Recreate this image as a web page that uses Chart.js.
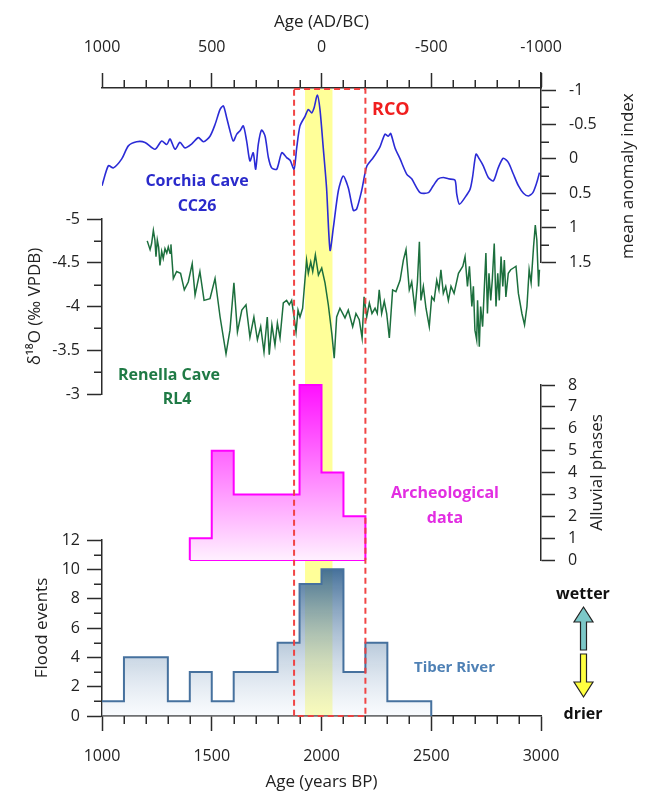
<!DOCTYPE html>
<html>
<head>
<meta charset="utf-8">
<script src="https://cdn.jsdelivr.net/npm/chart.js@4.4.1/dist/chart.umd.min.js"></script>
<style>
  html, body { margin: 0; padding: 0; background: #fff; }
  #wrap { position: relative; width: 649px; height: 792px; overflow: hidden; }
  #wrap canvas { position: absolute; left: 0; top: 0; }
</style>
</head>
<body>
<div id="wrap">
  <canvas id="bandChart" width="649" height="792"></canvas>
  <canvas id="renellaChart" width="649" height="792"></canvas>
  <canvas id="corchiaChart" width="649" height="792"></canvas>
  <canvas id="archChart" width="649" height="792"></canvas>
  <canvas id="tiberChart" width="649" height="792"></canvas>
</div>
<script>
// DATA (ages in years BP)
const ageRange = [1000, 3000];
const rcoBand = [1925, 2050];   // yellow band
const rcoBox = [1875, 2200];    // red dashed box

const bpTicks = [1000, 1500, 2000, 2500, 3000];
const bpMinor = [1100, 1200, 1300, 1400, 1600, 1700, 1800, 1900, 2100, 2200, 2300, 2400, 2600, 2700, 2800, 2900];
const adTicks = [1000, 500, 0, -500, -1000];
const adMinor = [900, 800, 700, 600, 400, 300, 200, 100, -100, -200, -300, -400, -600, -700, -800, -900];
const floodTicks = [0, 2, 4, 6, 8, 10, 12];
const floodMinor = [1, 3, 5, 7, 9, 11];
const alluvialTicks = [0, 1, 2, 3, 4, 5, 6, 7, 8];
const d18OTicks = [-5, -4.5, -4, -3.5, -3];
const d18OMinor = [-4.75, -4.25, -3.75, -3.25];
const anomalyTicks = [-1, -0.5, 0, 0.5, 1, 1.5];
const anomalyMinor = [-0.75, -0.25, 0.25, 0.75, 1.25];

// Tiber River flood events (step starts)
const tiberAge = [1000, 1100, 1300, 1400, 1500, 1600, 1800, 1900, 2000, 2100, 2200, 2300, 2500];
const tiberFloods = [1, 4, 1, 3, 1, 3, 5, 9, 10, 3, 5, 1, 0];

// Archeological data / alluvial phases (step starts)
const archAge = [1400, 1400, 1500, 1600, 1900, 2000, 2100, 2200];
const archPhases = [0, 1, 5, 3, 8, 4, 2, 0];

// Corchia Cave CC26 mean anomaly index
const corchiaAge = [1000, 1029, 1052, 1090, 1120, 1158, 1196, 1241, 1272, 1295, 1310, 1333, 1355, 1378, 1409, 1439, 1462, 1492, 1515, 1538, 1553, 1568, 1583, 1598, 1614, 1629, 1644, 1659, 1674, 1689, 1700, 1712, 1727, 1743, 1758, 1773, 1796, 1819, 1841, 1857, 1875, 1887, 1902, 1925, 1940, 1955, 1966, 1981, 1993, 2008, 2023, 2039, 2054, 2077, 2099, 2122, 2145, 2160, 2183, 2206, 2236, 2267, 2289, 2304, 2315, 2335, 2358, 2388, 2411, 2449, 2487, 2509, 2532, 2555, 2578, 2608, 2616, 2628, 2654, 2677, 2688, 2704, 2719, 2737, 2760, 2783, 2805, 2828, 2851, 2874, 2897, 2920, 2943, 2963, 2981, 2993];
const corchiaIndex = [0.39, 0.10, 0.13, 0.00, -0.19, -0.25, -0.24, -0.14, -0.26, -0.21, -0.29, -0.14, -0.24, -0.16, -0.22, -0.31, -0.25, -0.33, -0.50, -0.72, -0.77, -0.60, -0.41, -0.26, -0.36, -0.41, -0.48, -0.26, 0.03, -0.09, 0.15, -0.21, -0.42, -0.33, -0.02, 0.13, 0.15, -0.09, -0.02, 0.02, 0.15, -0.16, -0.48, -0.62, -0.72, -0.67, -0.74, -0.93, -0.72, -0.16, 0.42, 1.33, 1.00, 0.46, 0.25, 0.42, 0.75, 0.73, 0.46, 0.11, -0.02, -0.18, -0.36, -0.33, -0.37, -0.16, 0.00, 0.22, 0.29, 0.49, 0.49, 0.39, 0.29, 0.27, 0.29, 0.31, 0.51, 0.66, 0.56, 0.44, 0.27, -0.07, 0.00, 0.10, 0.27, 0.32, 0.13, -0.01, 0.05, 0.22, 0.39, 0.50, 0.54, 0.49, 0.34, 0.20];

// Renella Cave RL4 d18O (permil VPDB)
const renellaAge = [1206, 1219, 1226, 1234, 1241, 1246, 1252, 1258, 1264, 1272, 1279, 1287, 1295, 1302, 1310, 1314, 1325, 1340, 1358, 1375, 1393, 1411, 1424, 1446, 1465, 1492, 1515, 1538, 1565, 1583, 1601, 1617, 1637, 1656, 1674, 1692, 1708, 1723, 1738, 1753, 1762, 1774, 1788, 1799, 1811, 1826, 1841, 1853, 1864, 1875, 1884, 1893, 1902, 1914, 1932, 1940, 1951, 1960, 1972, 1986, 2001, 2016, 2031, 2047, 2058, 2069, 2084, 2107, 2122, 2142, 2157, 2172, 2185, 2194, 2206, 2218, 2230, 2244, 2254, 2263, 2274, 2286, 2297, 2309, 2324, 2339, 2358, 2373, 2385, 2400, 2411, 2426, 2437, 2446, 2453, 2464, 2476, 2491, 2502, 2513, 2525, 2535, 2544, 2555, 2566, 2578, 2590, 2604, 2624, 2644, 2654, 2665, 2674, 2685, 2692, 2699, 2707, 2711, 2719, 2725, 2734, 2740, 2749, 2756, 2763, 2771, 2778, 2787, 2795, 2803, 2810, 2818, 2826, 2833, 2840, 2851, 2862, 2874, 2886, 2897, 2913, 2925, 2936, 2946, 2955, 2966, 2974, 2981, 2989, 2993];
const renellaD18O = [-4.75, -4.65, -4.72, -4.87, -4.76, -4.57, -4.76, -4.68, -4.47, -4.63, -4.55, -4.66, -4.61, -4.68, -4.61, -4.71, -4.32, -4.40, -4.38, -4.19, -4.28, -4.49, -4.13, -4.40, -4.07, -4.09, -4.32, -3.88, -3.46, -3.73, -4.27, -3.71, -3.96, -4.02, -3.65, -3.88, -3.62, -3.77, -3.48, -3.88, -3.45, -3.79, -3.56, -3.81, -3.64, -4.04, -4.07, -4.02, -4.07, -3.88, -3.71, -3.96, -3.88, -3.98, -4.53, -4.38, -4.51, -4.40, -4.59, -4.36, -4.44, -4.27, -4.02, -3.69, -3.41, -3.88, -3.98, -3.87, -3.96, -3.77, -3.92, -3.85, -3.64, -4.11, -3.88, -4.04, -3.92, -3.98, -3.92, -4.19, -3.92, -4.06, -3.92, -3.64, -4.19, -4.17, -4.30, -4.53, -4.65, -4.19, -4.28, -3.96, -4.28, -4.74, -4.07, -4.23, -3.98, -3.77, -4.11, -4.07, -4.30, -4.19, -4.42, -4.15, -4.23, -4.07, -4.23, -4.15, -4.38, -4.46, -4.57, -4.23, -4.46, -4.00, -4.23, -3.73, -3.62, -4.07, -3.54, -4.00, -3.77, -4.11, -4.61, -3.92, -4.38, -4.07, -4.30, -4.72, -4.00, -4.38, -4.07, -4.57, -4.23, -4.53, -4.11, -4.38, -4.42, -4.44, -4.46, -4.15, -3.92, -3.79, -4.00, -4.42, -4.27, -4.68, -4.93, -4.76, -4.23, -4.42];

// LAYOUT
const W = 649, H = 792;
const LEFT = 102, RIGHT = 541;
const TOP_AXIS = 88, BOTTOM_AXIS = 716;
const AXIS = "#2b2b2b";
const TEXT = "#222";
const FONT = "'Open Sans', sans-serif";

Chart.defaults.font.family = FONT;
Chart.defaults.font.size = 16;
Chart.defaults.color = TEXT;
Chart.defaults.animation = false;
Chart.defaults.plugins.legend.display = false;
Chart.defaults.plugins.tooltip.enabled = false;

const toPoints = (xs, ys) => xs.map((x, i) => ({ x: x, y: ys[i] }));

function valueAxis(o) {
  return {
    type: "linear",
    position: o.position,
    min: o.min,
    max: o.max,
    reverse: !!o.reverse,
    afterBuildTicks: s => { s.ticks = o.ticks.map(v => ({ value: v })); },
    afterFit: s => { if (s.isHorizontal()) s.height = o.size; else s.width = o.size; },
    border: { display: true, color: AXIS, width: 1.5 },
    grid: { drawOnChartArea: false, drawTicks: true, tickLength: o.tick || 15, tickColor: AXIS, tickWidth: 1.5 },
    ticks: { padding: o.pad, color: TEXT, autoSkip: false, maxRotation: 0, font: { size: 16 }, callback: v => String(v) },
    title: o.title
      ? { display: true, text: o.title, color: TEXT, font: { size: 17 }, padding: o.titlePad }
      : { display: false }
  };
}

const hiddenAge = { type: "linear", min: ageRange[0], max: ageRange[1], display: false };

// minor ticks drawn on a scale through its own pixel mapping
function minorTicks(list) {
  return {
    id: "minorTicks",
    afterDraw(chart) {
      const ctx = chart.ctx;
      ctx.save();
      ctx.strokeStyle = AXIS;
      ctx.lineWidth = 1.5;
      ctx.beginPath();
      list.forEach(m => {
        const s = chart.scales[m.id];
        m.values.forEach(v => {
          const p = Math.round(s.getPixelForValue(v)) + 0.25;
          if (s.isHorizontal()) {
            const y = s.position === "top" ? s.bottom : s.top;
            ctx.moveTo(p, y);
            ctx.lineTo(p, y + (s.position === "top" ? -m.len : m.len));
          } else {
            const x = s.position === "left" ? s.right : s.left;
            ctx.moveTo(x, p);
            ctx.lineTo(x + (s.position === "left" ? -m.len : m.len), p);
          }
        });
      });
      ctx.stroke();
      ctx.restore();
    }
  };
}

// rotated title for right side axes (reads bottom to top)
function sideTitle(id, text, offset) {
  return {
    id: "sideTitle",
    afterDraw(chart) {
      const s = chart.scales[id];
      const ticks = s.ticks.map(t => s.getPixelForValue(t.value));
      const yc = (Math.min(...ticks) + Math.max(...ticks)) / 2;
      const ctx = chart.ctx;
      ctx.save();
      ctx.translate(s.left + offset, yc);
      ctx.rotate(-Math.PI / 2);
      ctx.font = "17px " + FONT;
      ctx.fillStyle = TEXT;
      ctx.textAlign = "center";
      ctx.textBaseline = "middle";
      ctx.fillText(text, 0, 0);
      ctx.restore();
    }
  };
}

// BACKGROUND: yellow band + top AD/BC axis
const bandPlugin = {
  id: "rcoBand",
  beforeDraw(chart) {
    const { ctx, chartArea: a, scales: { x } } = chart;
    const x0 = x.getPixelForValue(rcoBand[0]);
    const x1 = x.getPixelForValue(rcoBand[1]);
    ctx.save();
    ctx.fillStyle = "#ffff99";
    ctx.fillRect(x0, a.top + 1, x1 - x0, a.bottom - a.top - 1);
    ctx.restore();
  }
};

new Chart(document.getElementById("bandChart"), {
  type: "line",
  data: { datasets: [] },
  options: {
    responsive: false,
    layout: { padding: { left: LEFT, right: W - RIGHT, top: 0, bottom: H - BOTTOM_AXIS } },
    scales: {
      x: hiddenAge,
      xTop: valueAxis({ position: "top", min: -1000, max: 1000, reverse: true, ticks: adTicks,
        size: TOP_AXIS, pad: 16, title: "Age (AD/BC)", titlePad: { top: 12, bottom: 0 } }),
      y: { display: false, min: 0, max: 1 }
    }
  },
  plugins: [bandPlugin, minorTicks([{ id: "xTop", values: adMinor, len: 8 }])]
});

// RENELLA CAVE d18O
new Chart(document.getElementById("renellaChart"), {
  type: "line",
  data: {
    datasets: [{
      data: toPoints(renellaAge, renellaD18O),
      borderColor: "#1c6f3d",
      borderWidth: 1.5,
      pointRadius: 0,
      tension: 0
    }]
  },
  options: {
    responsive: false,
    layout: { padding: { left: 22, right: W - RIGHT, top: 219, bottom: H - 394 } },
    scales: {
      x: hiddenAge,
      y: valueAxis({ position: "left", min: -5, max: -3, reverse: true, ticks: d18OTicks,
        size: 80, pad: 7, title: "δ¹⁸O (‰ VPDB)", titlePad: { top: 3, bottom: 0 } })
    }
  },
  plugins: [minorTicks([{ id: "y", values: d18OMinor, len: 8 }])]
});

// CORCHIA CAVE anomaly index
new Chart(document.getElementById("corchiaChart"), {
  type: "line",
  data: {
    datasets: [{
      data: toPoints(corchiaAge, corchiaIndex),
      borderColor: "#2b2bd6",
      borderWidth: 1.6,
      pointRadius: 0,
      tension: 0.25
    }]
  },
  options: {
    responsive: false,
    layout: { padding: { left: LEFT, right: 8, top: 73, bottom: H - 262 } },
    scales: {
      x: hiddenAge,
      y: valueAxis({ position: "right", min: -1.25, max: 1.5, reverse: true, ticks: anomalyTicks,
        size: W - 8 - RIGHT, pad: 13 })
    }
  },
  plugins: [minorTicks([{ id: "y", values: anomalyMinor, len: 8 }]), sideTitle("y", "mean anomaly index", 87)]
});

// ARCHEOLOGICAL DATA (alluvial phases)
const archFirst = archAge[0], archLast = archAge[archAge.length - 1];
new Chart(document.getElementById("archChart"), {
  type: "line",
  data: {
    datasets: [{
      data: toPoints(archAge, archPhases),
      stepped: "before",
      borderColor: "#ff00ff",
      borderWidth: 2,
      pointRadius: 0,
      clip: false,
      fill: "origin",
      backgroundColor: c => {
        const { chart } = c;
        if (!chart.chartArea) return "rgba(255,0,255,0.5)";
        const y = chart.scales.y;
        const g = chart.ctx.createLinearGradient(0, y.getPixelForValue(8), 0, y.getPixelForValue(0));
        g.addColorStop(0, "#ff10ff");
        g.addColorStop(1, "#fff0ff");
        return g;
      }
    }, {
      // base line closing the outline at zero
      data: [{ x: archFirst, y: 0 }, { x: archLast, y: 0 }],
      borderColor: "#ff00ff",
      borderWidth: 2,
      pointRadius: 0,
      clip: false,
      fill: false
    }]
  },
  options: {
    responsive: false,
    layout: { padding: { left: LEFT, right: 48, top: 385, bottom: H - 560 } },
    scales: {
      x: hiddenAge,
      y: valueAxis({ position: "right", min: 0, max: 8, ticks: alluvialTicks,
        size: W - 48 - RIGHT, pad: 13, tick: 14 })
    }
  },
  plugins: [sideTitle("y", "Alluvial phases", 56)]
});

// OVERLAY: RCO box, labels, wetter/drier arrows
const notes = [
  { text: "Corchia Cave", x: 197, y: 181, color: "#2a2acb", size: 16, align: "center" },
  { text: "CC26", x: 197, y: 206, color: "#2a2acb", size: 16, align: "center" },
  { text: "Renella Cave", x: 169, y: 375, color: "#1f7a45", size: 16, align: "center" },
  { text: "RL4", x: 177, y: 399, color: "#1f7a45", size: 16, align: "center" },
  { text: "RCO", x: 372, y: 110, color: "#f01e1e", size: 18, align: "left" },
  { text: "Archeological", x: 445, y: 493, color: "#e22ee2", size: 16, align: "center" },
  { text: "data", x: 445, y: 518, color: "#e22ee2", size: 16, align: "center" },
  { text: "Tiber River", x: 414, y: 668, color: "#4f81b5", size: 15, align: "left" },
  { text: "wetter", x: 583, y: 594, color: "#111", size: 16, align: "center" },
  { text: "drier", x: 583, y: 714, color: "#111", size: 16, align: "center" }
];
const arrowX = 583.5;

function drawArrow(ctx, tipY, baseY, endY, fill) {
  const hw = 9.5, sw = 3;
  ctx.beginPath();
  ctx.moveTo(arrowX, tipY);
  ctx.lineTo(arrowX + hw, baseY);
  ctx.lineTo(arrowX + sw, baseY);
  ctx.lineTo(arrowX + sw, endY);
  ctx.lineTo(arrowX - sw, endY);
  ctx.lineTo(arrowX - sw, baseY);
  ctx.lineTo(arrowX - hw, baseY);
  ctx.closePath();
  ctx.fillStyle = fill;
  ctx.fill();
  ctx.strokeStyle = "#222";
  ctx.lineWidth = 1.2;
  ctx.stroke();
}

const overlayPlugin = {
  id: "overlay",
  afterDraw(chart) {
    const { ctx, chartArea: a, scales: { x } } = chart;
    const x0 = x.getPixelForValue(rcoBox[0]);
    const x1 = x.getPixelForValue(rcoBox[1]);
    ctx.save();
    ctx.strokeStyle = "rgba(240,60,60,0.95)";
    ctx.lineWidth = 2;
    ctx.setLineDash([6, 4]);
    ctx.strokeRect(x0, TOP_AXIS + 1, x1 - x0, a.bottom - TOP_AXIS - 1);
    ctx.setLineDash([]);

    ctx.textBaseline = "middle";
    notes.forEach(n => {
      ctx.font = "bold " + n.size + "px " + FONT;
      ctx.fillStyle = n.color;
      ctx.textAlign = n.align;
      ctx.fillText(n.text, n.x, n.y);
    });

    drawArrow(ctx, 607, 622, 650, "#7cc8c8");
    drawArrow(ctx, 697, 682, 654, "#ffff40");
    ctx.restore();
  }
};

// TIBER RIVER flood events
new Chart(document.getElementById("tiberChart"), {
  type: "line",
  data: {
    datasets: [{
      data: toPoints(tiberAge, tiberFloods),
      stepped: "before",
      borderColor: "#46719e",
      borderWidth: 2,
      pointRadius: 0,
      clip: false,
      fill: "origin",
      backgroundColor: c => {
        const { chart } = c;
        if (!chart.chartArea) return "rgba(70,113,158,0.4)";
        const y = chart.scales.y;
        const g = chart.ctx.createLinearGradient(0, y.getPixelForValue(10), 0, y.getPixelForValue(0));
        g.addColorStop(0, "rgba(50,98,144,0.9)");
        g.addColorStop(1, "rgba(236,242,250,0.35)");
        return g;
      }
    }]
  },
  options: {
    responsive: false,
    layout: { padding: { left: 22, right: W - RIGHT, top: 540, bottom: 0 } },
    scales: {
      x: valueAxis({ position: "bottom", min: ageRange[0], max: ageRange[1], ticks: bpTicks,
        size: H - BOTTOM_AXIS, pad: 16, title: "Age (years BP)", titlePad: { top: 0, bottom: 0 } }),
      y: valueAxis({ position: "left", min: 0, max: 12, ticks: floodTicks,
        size: 80, pad: 7, title: "Flood events", titlePad: { top: 10, bottom: 0 } })
    }
  },
  plugins: [
    minorTicks([{ id: "x", values: bpMinor, len: 8 }, { id: "y", values: floodMinor, len: 8 }]),
    overlayPlugin
  ]
});
</script>
</body>
</html>
